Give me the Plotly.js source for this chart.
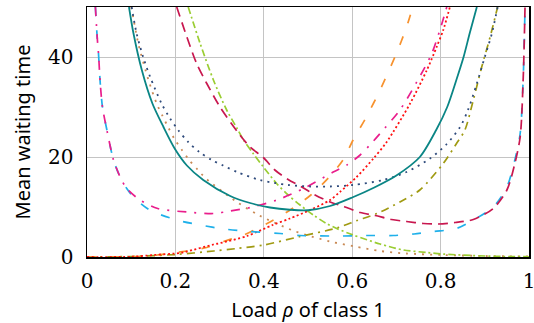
<!DOCTYPE html>
<html>
<head>
<meta charset="utf-8">
<script src="https://cdn.plot.ly/plotly-3.0.1.min.js"></script>
<style>html,body{margin:0;padding:0;background:#fff;}#chart{width:534px;height:323px;}</style>
</head>
<body>
<div id="chart"></div>
<script>
// Teal solid
const rhoTeal = [0.095,0.105,0.124,0.148,0.173,0.199,0.226,0.263,0.324,0.369,0.414,0.459,0.5,0.55,0.6,0.65,0.70,0.753,0.79,0.815,0.836,0.852,0.866,0.882];
const waitTeal = [50,44.8,37.4,30.7,26,21.6,18.3,15.4,12.2,10.8,9.9,9.45,9.35,10.2,11.9,13.9,16.3,20,25.4,30,35.5,40,44.8,50];
// Navy dotted
const rhoNavy = [0.101,0.112,0.127,0.143,0.168,0.188,0.207,0.229,0.254,0.282,0.308,0.342,0.391,0.425,0.455,0.505,0.55,0.602,0.670,0.723,0.776,0.814,0.844,0.862,0.882,0.900,0.916,0.929];
const waitNavy = [50,44.8,40,36,30.8,27.7,25.3,23,21,19.4,18.3,16.9,15.4,14.8,14.4,14.1,14.1,14.4,15.4,17,19.7,22.6,26,29.4,34.7,40,44.7,50];
// Brown dotted
const rhoBrown = [0.1,0.105,0.116,0.139,0.158,0.171,0.184,0.198,0.214,0.231,0.25,0.269,0.339,0.39,0.463,0.497,0.55,0.606,0.663,0.722,0.806,0.9,1.0];
const waitBrown = [50,47.7,42.7,35.4,30.6,28.2,25.9,23.6,21.5,19.4,17.5,15.7,11,8.3,5.4,4.4,3.1,2.1,1.2,0.7,0.4,0.2,0.1];
// Crimson dashed
const rhoCrimson = [0.203,0.226,0.248,0.271,0.301,0.346,0.369,0.399,0.425,0.455,0.486,0.516,0.55,0.584,0.618,0.652,0.689,0.723,0.761,0.795,0.833,0.874,0.919,0.95,0.968,0.98,0.987,0.991];
const waitCrimson = [50,44,38.7,34.7,30,24.4,22,19.9,17.4,15.5,14,12.4,11,10,8.9,8.3,7.5,7.1,6.7,6.6,6.9,7.5,9.7,13.4,18.7,24,36,50];
// Cyan dashed
const rhoCyan = [0.019,0.023,0.026,0.030,0.035,0.045,0.06,0.075,0.09,0.105,0.142,0.203,0.256,0.31,0.369,0.437,0.482,0.572,0.633,0.693,0.74,0.784,0.836,0.874,0.919,0.95,0.968,0.98,0.987,0.991];
const waitCyan = [50,44,40.7,34.7,30,25.4,19.4,16,13.7,12,9.4,7.4,6.4,5.6,5.1,4.7,4.3,4.2,4.3,4.3,4.6,5.1,5.7,7.4,10,14,19.4,24.7,36,50];
// Magenta dash-dot
const rhoMagenta = [0.019,0.023,0.026,0.030,0.035,0.045,0.06,0.075,0.09,0.12,0.16,0.226,0.286,0.324,0.369,0.43,0.49,0.557,0.588,0.618,0.640,0.663,0.708,0.746,0.78,0.802,0.814];
const waitMagenta = [50,44,40.7,34.7,30,25.4,19.4,16,13.7,11.4,9.7,9,8.7,9.2,9.9,11.4,13.7,17,18.4,20.4,22.4,24.7,29.4,35,40.7,46.4,50];
// Red dotted
const rhoRed = [0,0.1,0.151,0.21,0.226,0.286,0.302,0.362,0.42,0.459,0.505,0.55,0.572,0.610,0.648,0.678,0.731,0.769,0.791,0.806,0.821];
const waitRed = [0,0.05,0.4,0.8,1.1,2.5,2.8,4.2,6.4,7.7,9.4,11.4,13,16,19.7,23,30.7,37.4,42,45.4,50];
// Orange dashed
const rhoOrange = [0,0.1,0.15,0.226,0.271,0.309,0.355,0.392,0.414,0.463,0.505,0.546,0.58,0.602,0.632,0.663,0.7,0.723,0.737];
const waitOrange = [0,0.05,0.3,1.2,1.9,3.1,4.4,6,7,9.6,12.3,15.8,19.5,23.4,28,33.4,40.7,46,50];
// Olive dash-dot
const rhoOlive = [0,0.1,0.2,0.287,0.339,0.4,0.482,0.565,0.611,0.656,0.708,0.753,0.806,0.836,0.855,0.874,0.893,0.912,0.929];
const waitOlive = [0,0.1,0.5,1.2,1.7,2.4,4.1,5.8,7.3,8.7,11,13.4,18.7,22.7,25.4,31.4,38,44,50];
// Yellow-green dash-dot
const rhoLime = [0.229,0.256,0.286,0.316,0.339,0.354,0.376,0.399,0.429,0.455,0.482,0.512,0.542,0.565,0.602,0.663,0.716,0.769,0.805,0.87,0.94,1.0];
const waitLime = [50,42.7,35.4,29.4,25.8,23.4,20.7,18,14.7,12.4,10.4,8.4,6.7,5.7,4.4,2.6,1.4,0.9,0.6,0.3,0.1,0.05];

const xTicks = [0,0.2,0.4,0.6,0.8,1];
const xTickText = ['0','0.2','0.4','0.6','0.8','1'];
const yTicks = [0,20,40];
const yTickText = ['0','20','40'];

function tr(x,y,color,dash,width){
  return {x:x,y:y,type:'scatter',mode:'lines',
    line:{color:color,dash:dash,width:width||1.7,shape:'spline',smoothing:0.8},
    hoverinfo:'skip',showlegend:false};
}

const data = [
  tr(rhoBrown,waitBrown,'#c98a55','2px,6px',1.8),
  tr(rhoLime,waitLime,'#9acd32','7px,3px,2px,3px'),
  tr(rhoOlive,waitOlive,'#a09a12','8px,5px,2px,5px'),
  tr(rhoOrange,waitOrange,'#f7922e','9px,14px'),
  tr(rhoRed,waitRed,'#ff1010','2px,2.5px',1.8),
  tr(rhoCyan,waitCyan,'#1fb0ea','9px,14px'),
  tr(rhoMagenta,waitMagenta,'#e91e8c','9px,8px,2px,8px'),
  tr(rhoCrimson,waitCrimson,'#c8174f','10px,6px'),
  tr(rhoNavy,waitNavy,'#2f4b7c','2px,5px',1.8),
  tr(rhoTeal,waitTeal,'#0a8585','solid',1.8)
];

const layout = {
  width:534, height:323,
  margin:{l:87,r:5,t:7,b:66},
  paper_bgcolor:'#ffffff', plot_bgcolor:'#ffffff',
  xaxis:{range:[0,1],tickvals:xTicks,ticktext:xTickText,
    showgrid:true,gridcolor:'#c4c4c4',gridwidth:1,zeroline:false,
    showline:true,linecolor:'#000',linewidth:1.5,mirror:true,
    ticks:'',ticklabelstandoff:5,ticklabeloverflow:'allow',
    tickfont:{family:'"DejaVu Serif", serif',size:20,color:'#000'},
    title:{text:'Load <i>ρ</i> of class 1',standoff:12,font:{family:'"Noto Sans", sans-serif',size:20,color:'#000'}}},
  yaxis:{range:[0,50],tickvals:yTicks,ticktext:yTickText,
    showgrid:true,gridcolor:'#c4c4c4',gridwidth:1,zeroline:false,
    showline:true,linecolor:'#000',linewidth:1.5,mirror:true,
    ticks:'',ticklabelstandoff:8,
    tickfont:{family:'"DejaVu Serif", serif',size:20,color:'#000'},
    title:{text:'Mean waiting time',standoff:12,font:{family:'"Noto Sans", sans-serif',size:20,color:'#000'}}}
};

Plotly.newPlot('chart',data,layout,{staticPlot:true,displayModeBar:false});
</script>
</body>
</html>
